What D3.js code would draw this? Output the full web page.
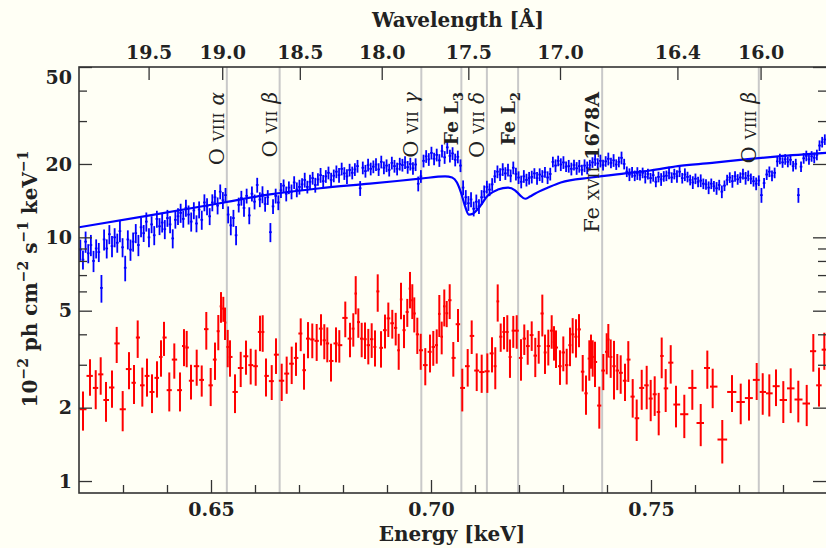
<!DOCTYPE html>
<html>
<head>
<meta charset="utf-8">
<script src="https://cdn.jsdelivr.net/npm/d3@7"></script>
<style>
  body { margin: 0; background: #fffff5; }
  svg { display: block; }
  .tick text { font-family: "DejaVu Serif", serif; font-weight: bold; font-size: 19px; fill: #222; }
  .tick line { stroke: #333; stroke-width: 1.3; }
</style>
</head>
<body>
<div id="chart"></div>
<script>
/* CONSTANTS */
const width = 826,
  height = 548,
  plot = { left: 79, right: 827, top: 67, bottom: 493 };

/* DATA */
// blue spectrum: regular bins starting at blueStart, width blueStep (keV)
const blueStart = 0.6203, blueStep = 0.0006;
const blueFlux = [
  8.9, 8.1, 9.6, 8.6, 9.3, 8.0, 9.0, 8.7, 6.2, 9.8,
  9.0, 10.3, 9.2, 10.0, 9.5, 10.6, 9.1, 7.5, 9.8, 8.9,
  9.6, 10.4, 9.3, 11.0, 10.4, 11.6, 10.0, 11.3, 10.2, 11.9,
  11.1, 11.5, 10.8, 12.0, 11.3, 9.9, 11.8, 12.2, 12.6, 11.9,
  13.2, 12.4, 11.6, 12.9, 11.4, 13.0, 11.8, 13.9, 13.4, 12.2,
  13.9, 14.6, 13.5, 15.4, 14.2, 14.9, 12.4, 11.2, 12.0, 10.2,
  13.6, 14.5, 13.2, 14.8, 12.3, 15.1, 14.0, 16.4, 14.3, 15.0,
  13.7, 14.6, 10.5, 13.4, 14.8, 13.9, 15.6, 16.3, 15.1, 16.0,
  15.4, 16.8, 15.7, 16.1, 16.5, 17.2, 16.1, 16.9, 17.5, 16.4,
  17.3, 18.0, 17.0, 17.8, 18.4, 17.2, 17.9, 18.6, 18.0, 19.1,
  18.3, 17.8, 18.9, 18.4, 19.0, 19.6, 15.9, 19.3, 18.7, 19.8,
  19.1, 19.5, 19.9, 19.0, 20.4, 19.3, 19.7, 18.9, 20.2, 19.6,
  19.1, 20.0, 19.8, 20.3, 19.4, 20.0, 19.2, 19.9, 16.6, 17.8,
  20.6, 21.5, 20.9, 22.2, 21.0, 21.8, 20.7, 22.6, 21.3, 23.4,
  21.6, 22.1, 20.8, 21.4, 19.7, 16.0, 14.6, 13.8, 14.3, 13.1,
  14.0, 13.4, 14.6, 15.4, 16.1, 15.7, 16.5, 17.8, 18.6, 18.1,
  19.0, 18.3, 18.9, 17.9, 19.3, 18.2, 17.6, 16.9, 17.8, 17.2,
  17.5, 17.7, 18.3, 17.5, 18.1, 17.8, 18.5, 17.6, 18.2, 20.4,
  19.7, 20.6, 19.9, 20.3, 19.5, 19.6, 19.1, 19.8, 19.2, 19.6,
  18.9, 19.7, 19.3, 19.8, 20.3, 20.9, 20.1, 20.6, 19.8, 20.5,
  21.0, 20.2, 20.7, 19.9, 20.4, 21.2, 20.0, 18.6, 18.1, 18.5,
  17.9, 18.3, 18.0, 18.4, 17.7, 18.2, 17.5, 18.0, 16.9, 17.7,
  17.3, 17.8, 17.9, 18.4, 17.6, 18.2, 17.8, 18.6, 17.5, 18.1,
  17.7, 17.2, 16.8, 17.4, 16.9, 17.1, 16.6, 16.5, 16.0, 16.6,
  16.2, 15.9, 16.4, 15.4, 16.3, 17.2, 17.6, 17.0, 17.8, 17.3,
  17.6, 18.2, 17.5, 17.9, 17.4, 17.0, 16.6, 17.1, 14.9, 16.7,
  18.1, 18.6, 17.9, 18.4, 20.5, 21.0, 20.3, 20.9, 20.4, 20.8,
  19.6, 20.0, 14.9, 19.5, 21.1, 21.6, 20.9, 21.5, 21.2, 21.8,
  23.8, 24.6, 25.2
];
// relative 1-sigma errors of the blue bins, percent
const blueErrPct = [
  10, 9, 10, 9, 10, 10, 9, 9, 13, 10,
  9, 9, 10, 9, 9, 10, 9, 12, 9, 10,
  9, 9, 10, 9, 8, 9, 9, 8, 9, 8,
  8, 9, 9, 8, 8, 9, 8, 8, 9, 8,
  8, 9, 9, 8, 8, 8, 9, 8, 8, 8,
  8, 7, 8, 7, 8, 7, 8, 9, 8, 9,
  7, 7, 8, 7, 8, 7, 7, 7, 7, 8,
  7, 7, 9, 7, 7, 7, 7, 6, 7, 6,
  7, 6, 7, 7, 6, 7, 6, 7, 6, 7,
  6, 7, 6, 6, 6, 7, 6, 6, 7, 6,
  6, 7, 6, 6, 6, 6, 7, 6, 6, 6,
  6, 6, 6, 6, 6, 6, 6, 6, 6, 6,
  6, 6, 6, 6, 6, 6, 6, 6, 7, 6,
  6, 6, 6, 6, 6, 6, 6, 6, 6, 6,
  6, 6, 6, 6, 6, 7, 7, 7, 7, 7,
  7, 7, 7, 6, 6, 6, 6, 6, 6, 6,
  6, 6, 6, 6, 6, 6, 6, 6, 6, 6,
  6, 6, 5, 6, 6, 6, 5, 6, 6, 5,
  6, 5, 6, 6, 5, 6, 6, 5, 6, 6,
  5, 6, 6, 5, 5, 6, 5, 6, 5, 5,
  6, 5, 6, 5, 5, 6, 5, 5, 6, 5,
  5, 6, 5, 5, 6, 5, 5, 6, 5, 5,
  6, 5, 5, 6, 5, 5, 6, 5, 5, 6,
  5, 5, 6, 5, 5, 6, 5, 5, 6, 5,
  5, 6, 5, 6, 5, 5, 5, 6, 5, 5,
  5, 5, 6, 5, 5, 5, 6, 5, 7, 5,
  5, 5, 5, 5, 5, 5, 5, 5, 5, 5,
  5, 5, 7, 5, 5, 5, 5, 5, 5, 5,
  5, 5, 5
];

// absorption model curve
const modelEnergy = [0.6200, 0.6361, 0.6520, 0.6634, 0.6748, 0.6861, 0.6975, 0.7032, 0.7048, 0.7059,
  0.7068, 0.7077, 0.7086, 0.7095, 0.7107, 0.7130, 0.7152, 0.7175, 0.7191, 0.7202,
  0.7214, 0.7225, 0.7236, 0.7266, 0.7295, 0.7364, 0.7441, 0.7498, 0.7561, 0.7639,
  0.7714, 0.7789, 0.7898];
const modelFlux = [11.0, 12.3, 13.8, 15.0, 15.9, 16.6, 17.4, 17.8, 17.6, 16.8,
  15.3, 13.5, 12.4, 12.5, 13.1, 14.9, 15.7, 16.0, 15.6, 14.9,
  14.4, 14.7, 15.1, 16.0, 16.8, 17.6, 18.3, 18.8, 19.6, 20.2,
  20.9, 21.5, 22.2];

// red spectrum
const redEnergy = [0.62091, 0.62250, 0.62380, 0.62493, 0.62614, 0.62750, 0.62857, 0.62993, 0.63136, 0.63250,
  0.63334, 0.63439, 0.63545, 0.63659, 0.63773, 0.63864, 0.63932, 0.64052, 0.64166, 0.64295,
  0.64386, 0.64448, 0.64545, 0.64675, 0.64789, 0.64893, 0.64993, 0.65091, 0.65166, 0.65227,
  0.65280, 0.65318, 0.65380, 0.65432, 0.65545, 0.65675, 0.65795, 0.65902, 0.66016, 0.66114,
  0.66175, 0.66250, 0.66380, 0.66477, 0.66607, 0.66720, 0.66834, 0.66932, 0.67039, 0.67114,
  0.67205, 0.67302, 0.67402, 0.67500, 0.67575, 0.67643, 0.67727, 0.67841, 0.67916, 0.68052,
  0.68159, 0.68234, 0.68289, 0.68348, 0.68425, 0.68500, 0.68575, 0.68652, 0.68727, 0.68789,
  0.68864, 0.68955, 0.69030, 0.69120, 0.69198, 0.69266, 0.69318, 0.69386, 0.69461, 0.69523,
  0.69575, 0.69620, 0.69689, 0.69766, 0.69870, 0.69977, 0.70052, 0.70130, 0.70189, 0.70243,
  0.70302, 0.70357, 0.70425, 0.70507, 0.70614, 0.70711, 0.70834, 0.70925, 0.71039, 0.71152,
  0.71280, 0.71386, 0.71461, 0.71516, 0.71584, 0.71659, 0.71734, 0.71795, 0.71870, 0.71948,
  0.72045, 0.72120, 0.72198, 0.72289, 0.72370, 0.72448, 0.72530, 0.72591, 0.72666, 0.72743,
  0.72795, 0.72841, 0.72932, 0.73007, 0.73084, 0.73159, 0.73220, 0.73295, 0.73364, 0.73448,
  0.73523, 0.73598, 0.73636, 0.73675, 0.73727, 0.73825, 0.73916, 0.73993, 0.74030, 0.74084,
  0.74159, 0.74234, 0.74311, 0.74409, 0.74484, 0.74584, 0.74675, 0.74789, 0.74902, 0.74993,
  0.75084, 0.75175, 0.75243, 0.75334, 0.75448, 0.75568, 0.75757, 0.75939, 0.76130, 0.76280,
  0.76402, 0.76620, 0.76841, 0.77039, 0.77227, 0.77402, 0.77539, 0.77689, 0.77841, 0.78007,
  0.78175, 0.78348, 0.78539, 0.78689, 0.78818, 0.78939];
const redFlux = [1.97, 2.70, 2.41, 2.74, 2.15, 2.42, 3.67, 1.97, 2.88, 2.53,
  3.88, 2.47, 2.70, 2.32, 2.65, 3.23, 3.88, 2.36, 3.15, 2.36,
  3.58, 3.53, 2.58, 2.96, 2.60, 4.20, 2.47, 3.15, 4.12, 5.21,
  5.10, 4.47, 3.55, 3.23, 2.32, 2.91, 3.25, 2.99, 2.96, 4.09,
  4.09, 2.70, 2.57, 3.30, 2.58, 2.76, 3.03, 3.20, 4.03, 2.85,
  3.84, 3.81, 3.76, 4.22, 3.78, 3.67, 3.11, 3.67, 3.61, 4.67,
  3.84, 4.22, 5.88, 4.49, 3.84, 3.82, 3.61, 3.82, 3.55, 6.00,
  3.52, 4.16, 4.65, 4.44, 4.25, 3.44, 5.56, 4.16, 4.94, 6.16,
  5.52, 4.87, 4.00, 3.44, 2.99, 3.39, 3.55, 3.61, 4.85, 3.91,
  5.21, 4.88, 5.52, 3.20, 4.40, 2.41, 2.96, 3.94, 2.84, 2.80,
  2.82, 3.34, 2.96, 5.46, 3.91, 4.09, 4.09, 3.23, 4.14, 4.14,
  3.20, 3.84, 3.58, 3.97, 3.27, 3.58, 4.87, 3.37, 3.58, 4.14,
  3.72, 3.53, 2.96, 3.37, 2.99, 3.61, 4.00, 3.91, 4.19, 2.81,
  2.29, 3.18, 3.44, 3.23, 3.08, 2.04, 2.84, 3.39, 3.81, 3.23,
  2.96, 2.84, 2.78, 2.58, 3.15, 2.22, 1.81, 2.41, 2.47, 2.18,
  2.27, 1.92, 3.26, 2.40, 3.06, 2.06, 1.88, 2.41, 1.73, 2.91,
  2.44, 1.48, 2.32, 2.11, 2.19, 2.60, 2.32, 2.29, 2.45, 2.15,
  2.40, 2.16, 2.08, 3.41, 2.47, 3.46];
const redErr = [0.36, 0.46, 0.44, 0.48, 0.40, 0.42, 0.62, 0.37, 0.50, 0.46,
  0.68, 0.45, 0.48, 0.42, 0.45, 0.55, 0.62, 0.43, 0.52, 0.43,
  0.62, 0.60, 0.42, 0.50, 0.38, 0.74, 0.44, 0.55, 0.68, 0.75,
  0.60, 0.68, 0.62, 0.55, 0.42, 0.48, 0.52, 0.50, 0.50, 0.68,
  0.70, 0.48, 0.42, 0.55, 0.45, 0.48, 0.53, 0.50, 0.62, 0.48,
  0.65, 0.62, 0.65, 0.62, 0.62, 0.60, 0.55, 0.60, 0.55, 0.78,
  0.62, 0.66, 1.05, 0.62, 0.62, 0.65, 0.60, 0.62, 0.60, 1.05,
  0.60, 0.66, 0.75, 0.60, 0.65, 0.58, 0.95, 0.65, 0.65, 1.05,
  0.90, 0.80, 0.68, 0.58, 0.52, 0.60, 0.58, 0.58, 0.95, 0.60,
  0.90, 0.60, 0.90, 0.52, 0.68, 0.48, 0.52, 0.62, 0.50, 0.50,
  0.52, 0.55, 0.58, 0.95, 0.52, 0.62, 0.70, 0.58, 0.62, 0.65,
  0.62, 0.55, 0.58, 0.55, 0.60, 0.55, 0.95, 0.62, 0.60, 0.65,
  0.60, 0.62, 0.48, 0.55, 0.50, 0.65, 0.66, 0.70, 0.65, 0.48,
  0.42, 0.60, 0.55, 0.55, 0.65, 0.40, 0.48, 0.65, 0.60, 0.58,
  0.80, 0.48, 0.50, 0.45, 0.60, 0.40, 0.35, 0.45, 0.50, 0.42,
  0.42, 0.38, 0.62, 0.48, 0.55, 0.40, 0.38, 0.45, 0.34, 0.52,
  0.45, 0.30, 0.40, 0.40, 0.42, 0.45, 0.45, 0.45, 0.42, 0.42,
  0.50, 0.42, 0.40, 0.60, 0.45, 0.60];

// line identifications
const lineEnergy = [0.6536, 0.6656, 0.6978, 0.7069, 0.7127, 0.7198, 0.7389, 0.7745];
const lineLabel = [
  [["O", "r"], ["VIII", "sc"], ["α", "i"]],
  [["O", "r"], ["VII", "sc"], ["β", "i"]],
  [["O", "r"], ["VII", "sc"], ["γ", "i"]],
  [["Fe L", "b"], ["3", "sub"]],
  [["O", "r"], ["VII", "sc"], ["δ", "i"]],
  [["Fe L", "b"], ["2", "sub"]],
  [["Fe", "r"], ["XVII", "sc"], ["1678A", "b"]],
  [["O", "r"], ["VIII", "sc"], ["β", "i"]]
];

// ticks
const energyMajor = [0.65, 0.70, 0.75];
const energyMinor = [0.63, 0.64, 0.66, 0.67, 0.68, 0.69, 0.71, 0.72, 0.73, 0.74, 0.76, 0.77, 0.78];
const wavelengthTicks = [19.5, 19.0, 18.5, 18.0, 17.5, 17.0, 16.4, 16.0];
const fluxMajor = [1, 2, 5, 10, 20, 50];
const fluxMinor = [3, 4, 6, 7, 8, 9, 30, 40];
const hc = 12.39842; // keV * Angstrom

/* SCALES */
const x = d3.scaleLinear().domain([0.62, 0.79]).range([plot.left, plot.right]);
const y = d3.scaleLog().domain([0.893, 50]).range([plot.bottom, plot.top]);

const svg = d3.select("#chart").append("svg")
  .attr("width", width)
  .attr("height", height);

svg.append("rect").attr("width", width).attr("height", height).attr("fill", "#fffff5");

svg.append("clipPath").attr("id", "clip")
  .append("rect")
  .attr("x", plot.left).attr("y", plot.top)
  .attr("width", plot.right - plot.left).attr("height", plot.bottom - plot.top);

// grey line markers
svg.append("g")
  .selectAll("line")
  .data(lineEnergy)
  .join("line")
  .attr("x1", d => x(d)).attr("x2", d => x(d))
  .attr("y1", plot.top).attr("y2", plot.bottom)
  .attr("stroke", "#c9c9c9")
  .attr("stroke-width", 2);

const data = svg.append("g").attr("clip-path", "url(#clip)");

// red data
const red = redEnergy.map((e, i) => {
  const lo = i > 0 ? (e - redEnergy[i - 1]) / 2 : (redEnergy[1] - e) / 2;
  const hi = i < redEnergy.length - 1 ? (redEnergy[i + 1] - e) / 2 : (e - redEnergy[i - 1]) / 2;
  return { e, lo, hi, v: redFlux[i], err: redErr[i] };
});
const redG = data.append("g").attr("stroke", "#ff0000").attr("stroke-width", 2);
redG.selectAll("line.v")
  .data(red)
  .join("line")
  .attr("class", "v")
  .attr("x1", d => x(d.e)).attr("x2", d => x(d.e))
  .attr("y1", d => y(d.v + d.err)).attr("y2", d => y(d.v - d.err));
redG.selectAll("line.h")
  .data(red)
  .join("line")
  .attr("class", "h")
  .attr("x1", d => x(d.e - d.lo)).attr("x2", d => x(d.e + d.hi))
  .attr("y1", d => y(d.v)).attr("y2", d => y(d.v));

// blue data
const blue = blueFlux.map((v, i) => ({
  e: blueStart + blueStep * i,
  v,
  err: v * blueErrPct[i] / 100
}));
const blueG = data.append("g").attr("stroke", "#0000ff").attr("stroke-width", 1.8);
blueG.selectAll("line.v")
  .data(blue)
  .join("line")
  .attr("class", "v")
  .attr("x1", d => x(d.e)).attr("x2", d => x(d.e))
  .attr("y1", d => y(d.v + d.err)).attr("y2", d => y(d.v - d.err));
blueG.selectAll("line.h")
  .data(blue)
  .join("line")
  .attr("class", "h")
  .attr("x1", d => x(d.e - blueStep / 2)).attr("x2", d => x(d.e + blueStep / 2))
  .attr("y1", d => y(d.v)).attr("y2", d => y(d.v));

// model
const model = modelEnergy.map((e, i) => ({ e, v: modelFlux[i] }));
data.append("path")
  .datum(model)
  .attr("fill", "none")
  .attr("stroke", "#0000ff")
  .attr("stroke-width", 2.2)
  .attr("d", d3.line().curve(d3.curveMonotoneX).x(d => x(d.e)).y(d => y(d.v)));

// line labels
const labelG = svg.append("g")
  .attr("font-family", "DejaVu Serif, serif")
  .attr("fill", "#222");
lineEnergy.forEach((e, i) => {
  const t = labelG.append("text")
    .attr("text-anchor", "end")
    .attr("transform", `translate(${x(e) - 3},92) rotate(-90)`);
  lineLabel[i].forEach(([txt, kind], j) => {
    const s = t.append("tspan").text(txt);
    if (kind === "sc") s.attr("font-size", 15).attr("dx", 7);
    else if (kind === "i") s.attr("font-size", 20).attr("font-style", "italic").attr("dx", 7);
    else if (kind === "b") s.attr("font-size", 19).attr("font-weight", "bold").attr("dx", j ? 7 : 0);
    else if (kind === "sub") s.attr("font-size", 13).attr("font-weight", "bold").attr("dy", 5);
    else s.attr("font-size", 21);
  });
});

/* AXES */
const bottomMajor = d3.axisBottom(x).tickValues(energyMajor).tickSize(-13).tickPadding(10)
  .tickFormat(d3.format(".2f"));
const bottomMinor = d3.axisBottom(x).tickValues(energyMinor).tickSize(-8).tickFormat("");
const topAxis = d3.axisTop(x).tickValues(wavelengthTicks.map(l => hc / l)).tickSize(-13).tickPadding(8)
  .tickFormat(e => d3.format(".1f")(hc / e));
const leftMajor = d3.axisLeft(y).tickValues(fluxMajor).tickSize(-13).tickPadding(7).tickFormat(d3.format("d"));
const leftMinor = d3.axisLeft(y).tickValues(fluxMinor).tickSize(-8).tickFormat("");
const rightMajor = d3.axisRight(y).tickValues(fluxMajor).tickSize(-13).tickFormat("");
const rightMinor = d3.axisRight(y).tickValues(fluxMinor).tickSize(-8).tickFormat("");

function addAxis(axis, tx, ty) {
  const g = svg.append("g").attr("transform", `translate(${tx},${ty})`).call(axis);
  g.select(".domain").remove();
  return g;
}
addAxis(bottomMajor, 0, plot.bottom);
addAxis(bottomMinor, 0, plot.bottom);
addAxis(topAxis, 0, plot.top);
const leftG = addAxis(leftMajor, plot.left, 0);
addAxis(leftMinor, plot.left, 0);
addAxis(rightMajor, 826, 0);
addAxis(rightMinor, 826, 0);

// keep the top label inside the frame
leftG.selectAll(".tick text").filter(d => d === 50).attr("y", 10);

// frame
svg.append("rect")
  .attr("x", plot.left).attr("y", plot.top)
  .attr("width", plot.right - plot.left).attr("height", plot.bottom - plot.top)
  .attr("fill", "none").attr("stroke", "#333").attr("stroke-width", 1.6);

/* TITLES */
const titleFont = "DejaVu Serif, serif";
svg.append("text")
  .attr("x", 452).attr("y", 541)
  .attr("text-anchor", "middle")
  .attr("font-family", titleFont).attr("font-weight", "bold").attr("font-size", 20)
  .attr("fill", "#222")
  .text("Energy [keV]");

svg.append("text")
  .attr("x", 458).attr("y", 27)
  .attr("text-anchor", "middle")
  .attr("font-family", titleFont).attr("font-weight", "bold").attr("font-size", 20)
  .attr("fill", "#222")
  .text("Wavelength [Å]");

const yt = svg.append("text")
  .attr("text-anchor", "middle")
  .attr("transform", "translate(37,279) rotate(-90)")
  .attr("font-family", titleFont).attr("font-weight", "bold").attr("font-size", 20)
  .attr("fill", "#222");
[["10", 0], ["−2", 1], [" ph cm", 0], ["−2", 1], [" s", 0], ["−1", 1], [" keV", 0], ["−1", 1]]
  .forEach(([txt, sup], i, arr) => {
    const prevSup = i > 0 && arr[i - 1][1];
    yt.append("tspan")
      .text(txt)
      .attr("font-size", sup ? 14 : 20)
      .attr("dy", sup ? -9 : (prevSup ? 9 : 0));
  });
</script>
</body>
</html>
